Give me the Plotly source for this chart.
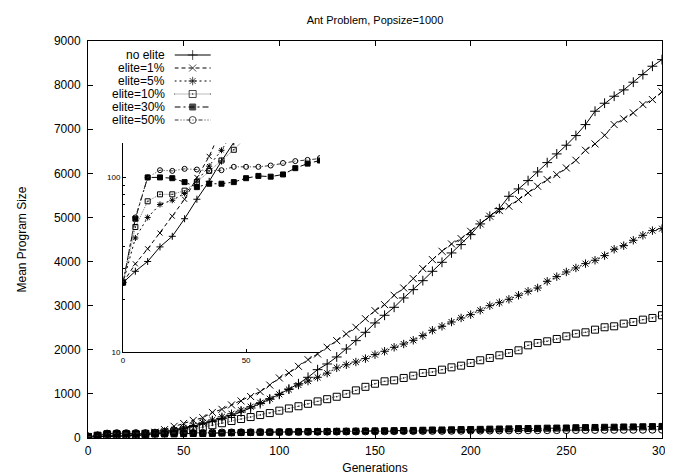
import plotly.graph_objects as go

gens = list(range(0, 301, 5))

no_elite = [25, 29, 33, 40, 46, 58, 75, 95, 124, 160, 210, 260, 320, 380, 440, 510, 590, 680, 780, 880,
            990, 1110, 1230, 1376, 1549, 1678, 1837, 2018, 2207, 2396, 2608, 2782, 2963, 3175, 3363, 3567,
            3779, 3983, 4195, 4384, 4610, 4853, 5027, 5200, 5480, 5646, 5835, 6032, 6243, 6440, 6637,
            6856, 7105, 7408, 7589, 7748, 7891, 8066, 8238, 8428, 8578]
elite_1 = [25, 32, 39, 48, 60, 75, 100, 132, 190, 265, 330, 400, 460, 580, 650, 750, 840, 940, 1050, 1200,
           1361, 1474, 1625, 1776, 1905, 2056, 2207, 2358, 2510, 2705, 2887, 3023, 3235, 3401, 3613, 3840,
           4044, 4233, 4399, 4520, 4686, 4853, 5027, 5155, 5253, 5404, 5556, 5707, 5858, 5971, 6122,
           6296, 6523, 6667, 6863, 7105, 7234, 7370, 7558, 7672, 7846]
elite_5 = [25, 45, 59, 70, 74, 81, 95, 116, 143, 185, 230, 285, 345, 410, 480, 550, 630, 710, 800, 890,
           990, 1100, 1200, 1290, 1376, 1470, 1590, 1660, 1723, 1800, 1890, 1966, 2056, 2131, 2215, 2321,
           2442, 2532, 2630, 2721, 2797, 2895, 3000, 3068, 3144, 3235, 3326, 3401, 3552, 3658, 3764,
           3855, 3953, 4029, 4135, 4278, 4361, 4482, 4595, 4701, 4746]
elite_10 = [25, 52, 73, 80, 80, 84, 94, 109, 125, 144, 170, 205, 245, 290, 335, 385, 430, 475, 520, 565,
            620, 670, 720, 775, 830, 880, 935, 1000, 1080, 1160, 1230, 1285, 1308, 1361, 1413, 1474,
            1497, 1549, 1602, 1640, 1701, 1762, 1814, 1875, 1927, 1988, 2101, 2154, 2192, 2245, 2305,
            2366, 2396, 2456, 2510, 2532, 2593, 2630, 2683, 2721, 2782]
elite_30 = [25, 58, 100, 100, 99, 94, 88, 92, 92, 94, 99, 102, 101, 104, 113, 120, 125, 127, 131, 132,
            135, 139, 140, 144, 146, 147, 151, 153, 155, 158, 161, 162, 166, 170, 172, 176, 181, 182,
            186, 191, 193, 196, 201, 204, 207, 213, 215, 218, 223, 225, 227, 233, 236, 239, 243, 245,
            250, 251, 255, 259, 262]
elite_50 = [25, 59, 100, 110, 109, 112, 111, 109, 110, 115, 115, 115, 117, 121, 124, 126, 129, 130, 133,
            134, 136, 137, 139, 141, 142, 144, 145, 147, 149, 150, 152, 153, 155, 157, 158, 160, 161,
            162, 164, 165, 167, 168, 169, 171, 172, 173, 175, 176, 177, 178, 179, 180, 181, 182, 183,
            184, 185, 186, 187, 188, 189]

names = ["no elite", "elite=1%", "elite=5%", "elite=10%", "elite=30%", "elite=50%"]
series = [no_elite, elite_1, elite_5, elite_10, elite_30, elite_50]
x_ticks = [0, 50, 100, 150, 200, 250, 300]
y_ticks = [0, 1000, 2000, 3000, 4000, 5000, 6000, 7000, 8000, 9000]
inset_x_ticks = [0, 50]
inset_y_ticks = [10, 100]
inset_y_minor = [20, 30, 40, 50, 60, 70, 80, 90]

symbols = ["cross-thin-open", "x-thin-open", "asterisk-open", "square-open-dot", "square", "circle-open"]
dashes = ["solid", "4px,3px", "2px,3px", "1px,1px", "6px,3px,2px,3px", "4px,2px,1px,2px,1px,2px"]
line_colors = ["black", "black", "black", "#777777", "black", "#333333"]
msizes = [7, 7, 7, 7, 6, 7]

fig = go.Figure()
for name, ys, sym, dash, lc, ms in zip(names, series, symbols, dashes, line_colors, msizes):
    fig.add_trace(go.Scatter(
        x=gens, y=ys, name=name, mode="lines+markers", showlegend=False,
        line=dict(color=lc, width=1, dash=dash),
        marker=dict(symbol=sym, size=ms, color="black", line=dict(color="black", width=1)),
        xaxis="x", yaxis="y"))
for name, ys, sym, dash, lc, ms in zip(names, series, symbols, dashes, line_colors, msizes):
    fig.add_trace(go.Scatter(
        x=gens, y=ys, name=name, mode="lines+markers", showlegend=False,
        line=dict(color=lc, width=1, dash=dash),
        marker=dict(symbol=sym, size=5, color="black", line=dict(color="black", width=1)),
        xaxis="x2", yaxis="y2"))

# gnuplot-style key: label on the left, line sample with a marker in the middle on the right
for i, (name, sym, dash, lc, ms) in enumerate(zip(names, symbols, dashes, line_colors, msizes)):
    fig.add_trace(go.Scatter(
        x=[0, 0.5, 1], y=[i, i, i], mode="lines+markers", showlegend=False, hoverinfo="skip",
        line=dict(color=lc, width=1, dash=dash),
        marker=dict(symbol=sym, size=[0, ms, 0], color="black", line=dict(color="black", width=1)),
        xaxis="x3", yaxis="y3"))
    fig.add_annotation(x=0.137, y=i, xref="paper", yref="y3", text=name, showarrow=False,
                       xanchor="right", yanchor="middle", font=dict(size=12))

font = "Liberation Sans, Arial, sans-serif"
axis_common = dict(showgrid=False, zeroline=False, showline=True, linecolor="black", linewidth=1,
                   tickcolor="black")
fig.update_layout(
    width=673, height=474,
    margin=dict(l=80, r=9, t=33, b=44),
    paper_bgcolor="white", plot_bgcolor="white",
    font=dict(family=font, size=12, color="black"),
    title=dict(text="Ant Problem, Popsize=1000", x=0.5, xref="paper", y=0.974, yanchor="middle",
               font=dict(size=11)),
    xaxis=dict(range=[0, 300], tickvals=x_ticks, mirror="ticks", ticks="inside", ticklen=5,
               ticklabeloverflow="allow", ticklabelstandoff=2,
               title=dict(text="Generations", standoff=6, font=dict(size=12)), **axis_common),
    yaxis=dict(range=[0, 9000], tickvals=y_ticks, mirror="ticks", ticks="inside", ticklen=5,
               ticklabelstandoff=4,
               title=dict(text="Mean Program Size", standoff=24, font=dict(size=12)), **axis_common),
    xaxis2=dict(domain=[0.0611, 0.404], anchor="y2", range=[0, 80], tickvals=inset_x_ticks,
                ticks="inside", ticklen=3, tickfont=dict(size=8), **axis_common),
    yaxis2=dict(domain=[0.2166, 0.743], anchor="x2", type="log", range=[1, 2.197], tickvals=inset_y_ticks,
                ticktext=[str(v) for v in inset_y_ticks], ticks="inside", ticklen=3, tickfont=dict(size=8),
                minor=dict(tickvals=inset_y_minor, ticks="inside", ticklen=2, tickcolor="black",
                           showgrid=False), **axis_common),
    xaxis3=dict(domain=[0.1507, 0.214], anchor="y3", range=[0, 1], visible=False, fixedrange=True),
    yaxis3=dict(domain=[0.7846, 0.9811], anchor="x3", range=[5.5, -0.5], visible=False, fixedrange=True),
    showlegend=False,
)

fig.write_html("out.html")
